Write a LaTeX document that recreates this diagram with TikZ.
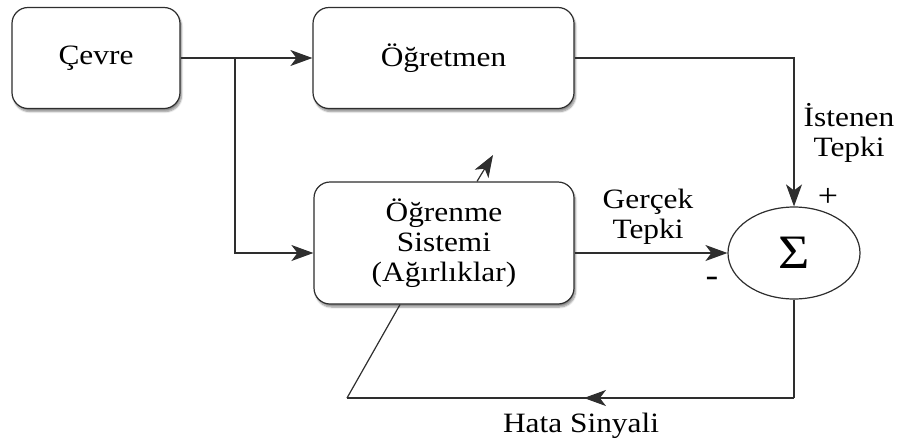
\documentclass[tikz,border=0pt]{standalone}
\usepackage{fontspec}
\setmainfont[FakeStretch=1.12]{Liberation Serif}
\usetikzlibrary{arrows.meta,shapes.geometric,shadows.blur,calc,decorations.markings}
\definecolor{linegray}{HTML}{2E2E2E}
\begin{document}
\begin{tikzpicture}[x=1pt,y=-1pt,
  every node/.style={font=\fontsize{28}{30}\selectfont, text=black},
  block/.style={draw=linegray, line width=1.2pt, rounded corners=16pt, fill=white,
    align=center, inner sep=0pt,
    blur shadow={shadow xshift=1.5pt, shadow yshift=-3pt, shadow blur steps=6, shadow opacity=45}},
  summer/.style={draw=linegray, line width=1.2pt, ellipse, fill=white, inner sep=0pt},
  link/.style={draw=linegray, line width=1.2pt},
  arrowlink/.style={link, -{Stealth[length=22pt,width=16pt,inset=6pt]}},
  midarrow/.style={link, postaction={decorate}, decoration={markings,
    mark=at position 0.47 with {\arrow{Stealth[length=22pt,width=16pt,inset=6pt]}}}},
  lbl/.style={align=center, inner sep=0pt}
]
\useasboundingbox (0,0) rectangle (901,445);

% blocks
\node[block, minimum width=168pt, minimum height=101pt] (cevre) at (96,58) {Çevre};
\node[block, minimum width=261pt, minimum height=101pt] (ogretmen) at (443.5,58) {Öğretmen};
\node[block, minimum width=260pt, minimum height=122pt] (ogrenme) at (444,243)
  {Öğrenme\\Sistemi\\(Ağırlıklar)};
\node[summer, minimum width=132pt, minimum height=92pt] (sum) at (794,253)
  {\fontsize{48}{48}\selectfont Σ};

% forward paths
\coordinate (branch) at (235,58);
\draw[arrowlink] (cevre.east) -- (ogretmen.west);
\draw[arrowlink] (branch) |- ([yshift=-10pt]ogrenme.west);
\draw[arrowlink] (ogretmen.east) -| (sum.north);
\draw[arrowlink] ([yshift=-10pt]ogrenme.east) -- (sum.west);

% error feedback
\coordinate (fbR) at (794,398);
\coordinate (fbL) at (347,398);
\coordinate (fbIn) at ($(ogrenme.south)+(-44,0)$);
\coordinate (adjOut) at ($(ogrenme.north)+(33,0)$);
\coordinate (adjTip) at (493,155);
\draw[link] (sum.south) -- (fbR);
\draw[midarrow] (fbR) -- (fbL);
\draw[link] (fbL) -- (fbIn);
\draw[arrowlink] (adjOut) -- (adjTip);

% labels
\node[lbl] (lblIst) at (849,133) {İstenen\\Tepki};
\node[lbl] (lblGer) at (648,217) {Gerçek\\Tepki};
\node[lbl, font=\fontsize{32}{32}\selectfont] (lblPlus) at (828,197) {+};
\node[lbl, font=\fontsize{34}{34}\selectfont] (lblMinus) at (712,282) {-};
\node[lbl] (lblHata) at (581,426) {Hata Sinyali};
\end{tikzpicture}
\end{document}
